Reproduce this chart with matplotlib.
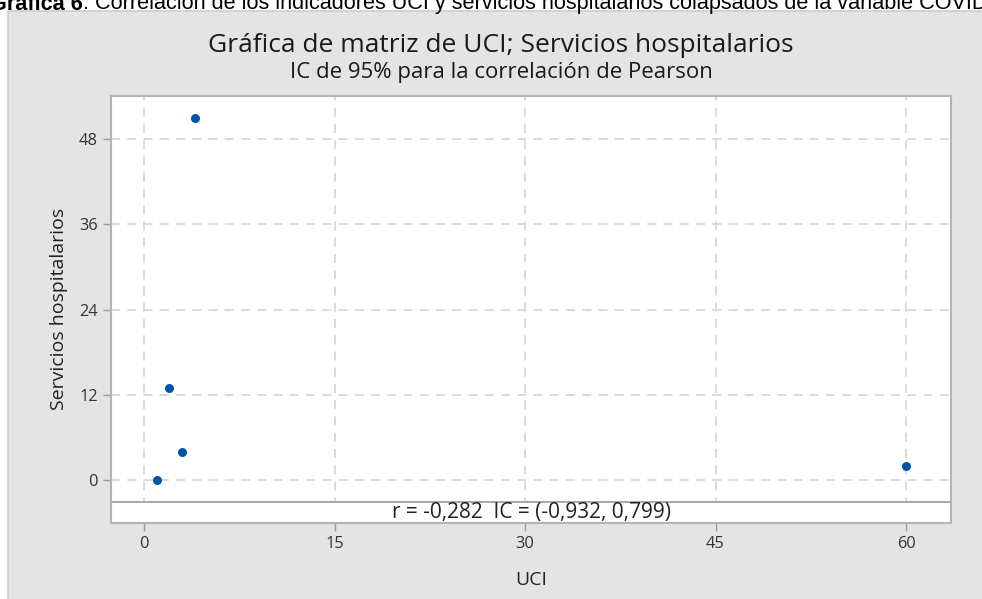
import matplotlib
matplotlib.use("Agg")
import matplotlib.pyplot as plt
from matplotlib.patches import Rectangle

# Data
uci = [1, 2, 3, 4, 60]
servicios = [0, 13, 4, 51, 2]
x_ticks = [0, 15, 30, 45, 60]
y_ticks = [0, 12, 24, 36, 48]
title = "Gráfica de matriz de UCI; Servicios hospitalarios"
subtitle = "IC de 95% para la correlación de Pearson"
r_text = "r = -0,282  IC = (-0,932, 0,799)"
caption_bold = "Gráfica 6"
caption_rest = ": Correlación de los indicadores UCI y servicios hospitalarios colapsados de la variable COVID"

W, H = 982, 599
fig = plt.figure(figsize=(W / 100, H / 100), dpi=100)
fig.patch.set_facecolor("white")

def fx(px):
    return px / W

def fy(py):
    return 1 - py / H

# gray panel
panel = Rectangle((fx(8), -0.01), 1.01 - fx(8), fy(11) + 0.01, transform=fig.transFigure,
                  facecolor="#e4e4e4", edgecolor="#cdcdcd", linewidth=1.2, zorder=-10)
fig.patches.append(panel)

# caption (cut at top)
cap_font = ["Liberation Sans Narrow", "Liberation Sans", "DejaVu Sans"]
fig.text(fx(83), fy(9.5), caption_bold, fontsize=15.6, fontweight="bold",
         family=cap_font, ha="right", va="baseline", color="black")
fig.text(fx(83), fy(9.5), caption_rest, fontsize=15.6, family=cap_font,
         ha="left", va="baseline", color="black")

# axes
left, right, top, bottom = 111, 951, 96, 522.7
ax = fig.add_axes([fx(left), fy(bottom), fx(right - left), (bottom - top) / H])
ax.set_facecolor("white")

ax.set_xlim(-2.6, 63.54)
ax.set_ylim(-6.0, 54.05)
band_top = -3.05

ax.set_xticks(x_ticks)
ax.set_yticks(y_ticks)
ax.grid(True, color="#d8d8d8", linestyle=(0, (5, 4)), linewidth=1.3, zorder=1)
ax.set_axisbelow(True)

ax.scatter(uci, servicios, s=42, color="#0054a6", zorder=3, linewidths=0)

# band for r
x0, x1 = ax.get_xlim()
y0, y1 = ax.get_ylim()
ax.add_patch(Rectangle((x0, y0), x1 - x0, band_top - y0,
                       facecolor="white", edgecolor="none", zorder=2))
ax.axhline(band_top, color="#a8a8a8", linewidth=1.4, zorder=4)
ax.text((x0 + x1) / 2, (band_top + y0) / 2, r_text,
        fontsize=15, family="Open Sans", ha="center", va="center", color="#222222", zorder=5)

for sp in ax.spines.values():
    sp.set_color("#b4b4b4")
    sp.set_linewidth(1.5)

ax.tick_params(axis="both", colors="#9a9a9a", labelcolor="#333333", length=6, width=1.0,
               labelsize=11.8)
for lab in ax.get_xticklabels() + ax.get_yticklabels():
    lab.set_family("Open Sans")

ax.set_xlabel("UCI", fontsize=14, family="Open Sans", color="#222222", labelpad=14)
ax.set_ylabel("Servicios hospitalarios", fontsize=14, family="Open Sans", color="#222222", labelpad=8)

fig.text(fx(501), fy(45.5), title, fontsize=19, family="Open Sans", ha="center", va="center",
         color="#1a1a1a")
fig.text(fx(501), fy(72.5), subtitle, fontsize=16, family="Open Sans", ha="center", va="center",
         color="#1a1a1a")

fig.savefig("out.png", dpi=100, facecolor=fig.get_facecolor())
